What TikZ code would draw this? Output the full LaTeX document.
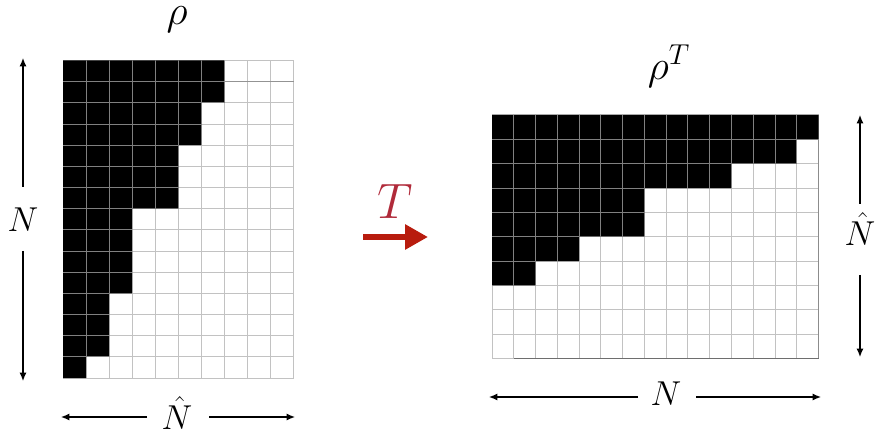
\documentclass[tikz,border=0pt]{standalone}
\usetikzlibrary{arrows.meta}
\definecolor{gridlt}{HTML}{C2C2C2}
\definecolor{griddk}{HTML}{808080}
\definecolor{edgedk}{HTML}{6E6E6E}
\definecolor{tcol}{HTML}{B02A3A}
\definecolor{arrcol}{HTML}{B81C0E}
\tikzset{
  gl/.style={draw=gridlt, line width=0.5pt},
  gd/.style={draw=griddk, line width=0.5pt},
  dimarrow/.style={line width=0.65pt, -{Latex[length=4.2pt,width=3.6pt]}},
  lbl/.style={inner sep=0pt, font=\fontsize{17}{20}\selectfont},
}
\begin{document}
\begin{tikzpicture}[x=0.5pt,y=-0.5pt]
\useasboundingbox (0,0) rectangle (875,433);

% ---------- left grid rho (15 rows x 10 cols) ----------
\begin{scope}[shift={(63,60.5)}, x=11.525pt, y=-10.585pt]
  \foreach \i in {0,...,10} \draw[gl] (\i,0) -- (\i,15);
  \foreach \j in {0,...,15} \draw[gl] (0,\j) -- (10,\j);
  \fill[black] (0,0) -- (7,0) -- (7,2) -- (6,2) -- (6,4) -- (5,4) -- (5,7) -- (3,7)
     -- (3,11) -- (2,11) -- (2,14) -- (1,14) -- (1,15) -- (0,15) -- cycle;
  \begin{scope}
    \clip (0,0) -- (7,0) -- (7,2) -- (6,2) -- (6,4) -- (5,4) -- (5,7) -- (3,7)
     -- (3,11) -- (2,11) -- (2,14) -- (1,14) -- (1,15) -- (0,15) -- cycle;
    \foreach \i in {1,...,6} \draw[gd] (\i,0) -- (\i,15);
    \foreach \j in {1,...,14} \draw[gd] (0,\j) -- (7,\j);
  \end{scope}
  \draw[draw=gray!85, line width=0.5pt] (7,1) -- (10,1);
\end{scope}

% ---------- right grid rho^T (10 rows x 15 cols) ----------
\begin{scope}[shift={(492,115)}, x=10.885pt, y=-12.175pt]
  \foreach \i in {0,...,15} \draw[gl] (\i,0) -- (\i,10);
  \foreach \j in {0,...,10} \draw[gl] (0,\j) -- (15,\j);
  \fill[black] (0,0) -- (15,0) -- (15,1) -- (14,1) -- (14,2) -- (11,2) -- (11,3) -- (7,3)
     -- (7,5) -- (4,5) -- (4,6) -- (2,6) -- (2,7) -- (0,7) -- cycle;
  \begin{scope}
    \clip (0,0) -- (15,0) -- (15,1) -- (14,1) -- (14,2) -- (11,2) -- (11,3) -- (7,3)
     -- (7,5) -- (4,5) -- (4,6) -- (2,6) -- (2,7) -- (0,7) -- cycle;
    \foreach \i in {1,...,14} \draw[gd] (\i,0) -- (\i,7);
    \foreach \j in {1,...,6} \draw[gd] (0,\j) -- (15,\j);
  \end{scope}
  \draw[draw=edgedk, line width=0.6pt] (1,10) -- (15,10);
  \draw[draw=gray!90, line width=0.5pt] (15,1) -- (15,10);
\end{scope}

% ---------- titles ----------
\node[lbl, font=\fontsize{21}{24}\selectfont] (rho) at (177,20) {$\rho$};
\node[lbl, font=\fontsize{20.5}{24}\selectfont] (rhoT) at (669,66) {$\rho^T$};

% ---------- transformation arrow ----------
\node[lbl, text=tcol, font=\fontsize{23.5}{28}\selectfont] (T) at (395,201) {$T$};
\coordinate (Ts) at (363,237);
\coordinate (Te) at (428,237);
\draw[draw=arrcol, line width=3pt, -{Triangle[length=11.5pt,width=12pt]}] (Ts) -- (Te);

% ---------- left dimension arrows ----------
\node[lbl] (NL) at (23,220) {$N$};
\coordinate (NLa) at (23,187); \coordinate (NLt) at (23,58);
\coordinate (NLb) at (23,251); \coordinate (NLbt) at (23,381);
\draw[dimarrow] (NLa) -- (NLt);
\draw[dimarrow] (NLb) -- (NLbt);

\node[lbl] (NHL) at (177,413) {$\hat{N}$};
\coordinate (NHLa) at (147,417); \coordinate (NHLt) at (61,417);
\coordinate (NHLb) at (209,417); \coordinate (NHLbt) at (295,417);
\draw[dimarrow] (NHLa) -- (NHLt);
\draw[dimarrow] (NHLb) -- (NHLbt);

% ---------- right dimension arrows ----------
\node[lbl] (NHR) at (860,229) {$\hat{N}$};
\coordinate (NHRa) at (860,204); \coordinate (NHRt) at (860,115);
\coordinate (NHRb) at (860,275); \coordinate (NHRbt) at (860,357);
\draw[dimarrow] (NHRa) -- (NHRt);
\draw[dimarrow] (NHRb) -- (NHRbt);

\node[lbl] (NR) at (666,394) {$N$};
\coordinate (NRa) at (638,397); \coordinate (NRt) at (489,397);
\coordinate (NRb) at (696,397); \coordinate (NRbt) at (821,397);
\draw[dimarrow] (NRa) -- (NRt);
\draw[dimarrow] (NRb) -- (NRbt);
\end{tikzpicture}
\end{document}
